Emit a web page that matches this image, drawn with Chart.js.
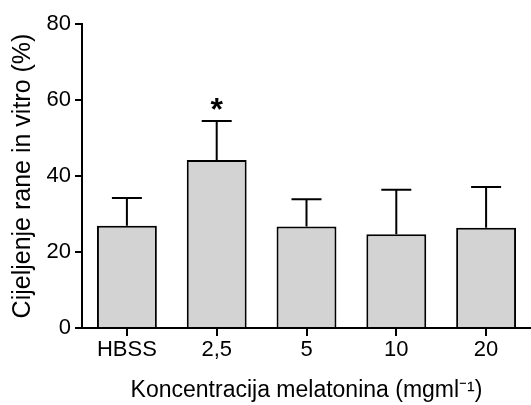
<!DOCTYPE html>
<html>
<head>
<meta charset="utf-8">
<script src="https://cdn.jsdelivr.net/npm/chart.js@4/dist/chart.umd.min.js"></script>
<style>
  html, body { margin: 0; padding: 0; background: #fff; }
  #wrap { width: 531px; height: 405px; }
</style>
</head>
<body>
<div id="wrap"><canvas id="myChart" width="531" height="405"></canvas></div>
<script>
var labels = ['HBSS', '2,5', '5', '10', '20'];
var means = [26.9, 44.2, 26.7, 24.7, 26.4];
var errors = [7.3, 10.3, 7.2, 11.7, 10.7];
var marks = ['', '*', '', '', ''];
var yTicks = [0, 20, 40, 60, 80];

var fontFam = "'Liberation Sans', Arial, sans-serif";

// error bars (upper only) + significance star
var errorBars = {
    id: 'errorBars',
    afterDatasetsDraw: function (chart) {
        var ctx = chart.ctx;
        var yScale = chart.scales.y;
        var meta = chart.getDatasetMeta(0);
        ctx.save();
        ctx.strokeStyle = '#000';
        ctx.lineWidth = 2;
        meta.data.forEach(function (bar, i) {
            var top = yScale.getPixelForValue(means[i] + errors[i]);
            ctx.beginPath();
            ctx.moveTo(bar.x, bar.y);
            ctx.lineTo(bar.x, top);
            ctx.moveTo(bar.x - 15, top);
            ctx.lineTo(bar.x + 15, top);
            ctx.stroke();
            if (marks[i]) {
                ctx.fillStyle = '#000';
                ctx.font = 'bold 32px ' + fontFam;
                ctx.textAlign = 'center';
                ctx.textBaseline = 'alphabetic';
                ctx.fillText(marks[i], bar.x, top - 1);
            }
        });
        ctx.restore();
    }
};

var cvas = document.getElementById('myChart').getContext('2d');
var myChart = new Chart(cvas, {
    type: 'bar',
    data: {
        labels: labels,
        datasets: [{
            data: means,
            backgroundColor: '#d3d3d3',
            borderColor: '#000',
            borderWidth: 2,
            categoryPercentage: 1,
            barPercentage: 0.667
        }]
    },
    plugins: [errorBars],
    options: {
        responsive: false,
        animation: false,
        layout: { padding: { top: 24, right: -8, left: 0, bottom: 0 } },
        plugins: { legend: { display: false }, tooltip: { enabled: false } },
        scales: {
            x: {
                offset: true,
                grid: { offset: false, drawOnChartArea: false, tickLength: 8, color: '#000', lineWidth: 2 },
                border: { color: '#000', width: 2 },
                ticks: { color: '#000', font: { family: fontFam, size: 22 }, padding: 1, maxRotation: 0 },
                title: {
                    display: true,
                    text: 'Koncentracija melatonina (mgml⁻¹)',
                    color: '#000',
                    font: { family: fontFam, size: 23 },
                    padding: { top: 0, bottom: 1 }
                },
                afterFit: function (s) { s.height = 77; }
            },
            y: {
                min: 0,
                max: 80,
                afterBuildTicks: function (s) {
                    s.ticks = yTicks.map(function (v) { return { value: v }; });
                },
                grid: { drawOnChartArea: false, tickLength: 7, color: '#000', lineWidth: 2 },
                border: { color: '#000', width: 2 },
                ticks: { color: '#000', font: { family: fontFam, size: 22 }, padding: 4 },
                title: {
                    display: true,
                    text: 'Cijeljenje rane in vitro (%)',
                    color: '#000',
                    font: { family: fontFam, size: 25 },
                    padding: { top: 8, bottom: 0 }
                },
                afterFit: function (s) { s.width = 82; }
            }
        }
    }
});
</script>
</body>
</html>
